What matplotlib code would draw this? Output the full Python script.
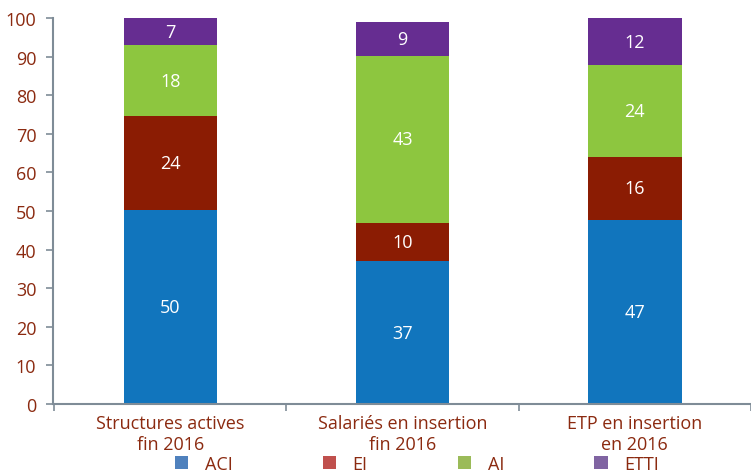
import matplotlib.pyplot as plt
from matplotlib.patches import Patch
import numpy as np

plt.rcParams['font.family'] = ['Open Sans', 'DejaVu Sans']

categories = ['Structures actives\nfin 2016', 'Salariés en insertion\nfin 2016', 'ETP en insertion\nen 2016']
series = ['ACI', 'EI', 'AI', 'ETTI']
aci = [50.3, 37.0, 47.7]
ei = [24.3, 9.9, 16.3]
ai = [18.4, 43.3, 23.8]
etti = [7.0, 8.8, 12.2]
aci_lbl = ['50', '37', '47']
ei_lbl = ['24', '10', '16']
ai_lbl = ['18', '43', '24']
etti_lbl = ['7', '9', '12']

bar_colors = ['#1175bd', '#8b1c03', '#8dc63f', '#662d91']
legend_colors = ['#4f81bd', '#c0504d', '#9bbb59', '#8064a2']
text_red = '#8b2a10'
axis_gray = '#7f8c97'

fig = plt.figure(figsize=(7.51, 4.77), dpi=100)
ax = fig.add_axes([0.0706, 0.151, 0.9294, 0.809])

x = np.arange(len(categories))
bottom = np.zeros(len(categories))
for vals, lbls, col in zip([aci, ei, ai, etti], [aci_lbl, ei_lbl, ai_lbl, etti_lbl], bar_colors):
    bars = ax.bar(x, vals, 0.402, bottom=bottom, color=col, edgecolor='none')
    ax.bar_label(bars, labels=lbls, label_type='center', color='white', fontsize=13)
    bottom += np.array(vals)

ax.set_xlim(-0.505, 2.46)
ax.set_ylim(0, 100)
ax.set_yticks(range(0, 101, 10))
ax.set_xticks([-0.5, 0.5, 1.5, 2.5])
ax.set_xticklabels([])
ax.set_xticks(x, minor=True)
ax.set_xticklabels(categories, minor=True, color=text_red, fontsize=13, linespacing=1.25)
ax.tick_params(axis='x', which='minor', length=0, pad=7)
ax.tick_params(axis='x', which='major', length=5, color=axis_gray, width=1.2)
ax.tick_params(axis='y', length=5, color=axis_gray, width=1.2, labelcolor=text_red, labelsize=13, pad=7)

for s in ['top', 'right']:
    ax.spines[s].set_visible(False)
for s in ['left', 'bottom']:
    ax.spines[s].set_color(axis_gray)
    ax.spines[s].set_linewidth(1.5)

handles = [Patch(facecolor=c, edgecolor='none') for c in legend_colors]
fig.legend(handles, series, loc='center', bbox_to_anchor=(0.555, 0.026), ncol=4, frameon=False,
           fontsize=13, handlelength=0.75, handleheight=0.75, columnspacing=5.0, handletextpad=0.9,
           labelcolor=text_red, borderpad=0.1)

fig.savefig('out.png', dpi=100)
